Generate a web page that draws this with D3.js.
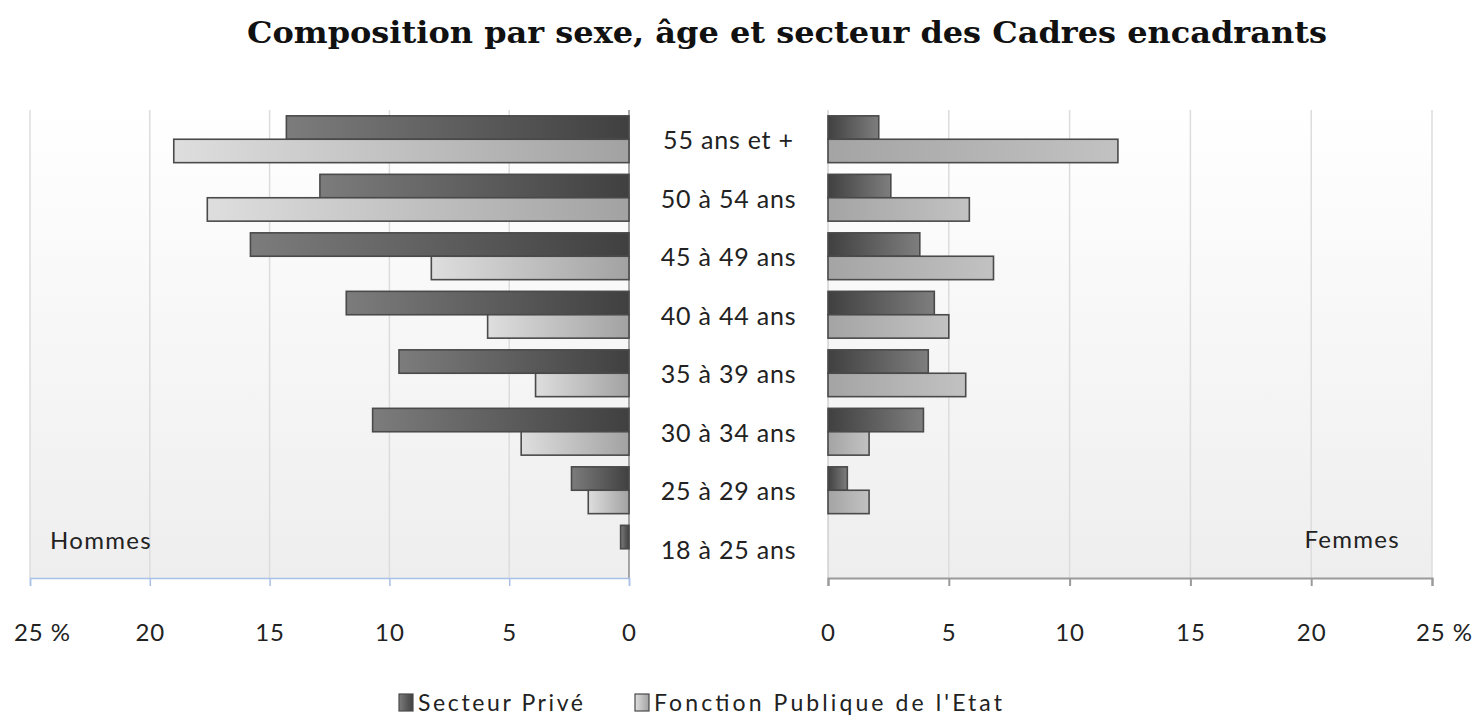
<!DOCTYPE html>
<html>
<head>
<meta charset="utf-8">
<script src="https://cdn.jsdelivr.net/npm/d3@7"></script>
<style>
  body { margin: 0; background: #fff; }
  svg { display: block; }
</style>
</head>
<body>
<div id="chart"></div>
<script>
// data (percent)
const ageGroups = ["55 ans et +", "50 à 54 ans", "45 à 49 ans", "40 à 44 ans",
                   "35 à 39 ans", "30 à 34 ans", "25 à 29 ans", "18 à 25 ans"];
const seriesNames = ["Secteur Privé", "Fonction Publique de l'Etat"];
const hommesPrive  = [14.3, 12.9, 15.8, 11.8, 9.6, 10.7, 2.4, 0.35];
const hommesPublic = [19.0, 17.6, 8.25, 5.9, 3.9, 4.5, 1.7, 0];
const femmesPrive  = [2.1, 2.6, 3.8, 4.4, 4.15, 3.95, 0.8, 0];
const femmesPublic = [12.0, 5.85, 6.85, 5.0, 5.7, 1.7, 1.7, 0];
const tickValues = [0, 5, 10, 15, 20, 25];

const width = 1478, height = 720;
const plotTop = 110, plotBottom = 578;

const svg = d3.select("#chart").append("svg")
    .attr("width", width)
    .attr("height", height);

const defs = svg.append("defs");

function gradient(id, stops) {
    const g = defs.append("linearGradient")
        .attr("id", id)
        .attr("x1", 0).attr("x2", 1).attr("y1", 0).attr("y2", 0);
    stops.forEach(s => g.append("stop").attr("offset", s[0]).attr("stop-color", s[1]));
}
// bars get darker towards the zero line
gradient("privL", [[0, "#7c7c7c"], [1, "#404040"]]);
gradient("pubL", [[0, "#dedede"], [1, "#a2a2a2"]]);
gradient("privR", [[0, "#404040"], [1, "#7e7e7e"]]);
gradient("pubR", [[0, "#a4a4a4"], [1, "#c2c2c2"]]);
const bg = defs.append("linearGradient").attr("id", "bg")
    .attr("x1", 0).attr("x2", 0).attr("y1", 0).attr("y2", 1);
bg.append("stop").attr("offset", 0).attr("stop-color", "#ffffff");
bg.append("stop").attr("offset", 1).attr("stop-color", "#eeeeee");

const xL = d3.scaleLinear().domain([0, 25]).range([629, 30]);
const xR = d3.scaleLinear().domain([0, 25]).range([828, 1432]);

const y = d3.scaleBand()
    .domain(ageGroups)
    .range([plotTop, plotBottom])
    .paddingInner(0.2)
    .paddingOuter(0.1);

const ySub = d3.scaleBand()
    .domain(seriesNames)
    .range([0, y.bandwidth()]);

// title
svg.append("text")
    .attr("x", 787)
    .attr("y", 43)
    .attr("text-anchor", "middle")
    .attr("textLength", 1080)
    .attr("lengthAdjust", "spacingAndGlyphs")
    .style("font-family", "DejaVu Serif, serif")
    .style("font-weight", "bold")
    .style("font-size", "30px")
    .attr("fill", "#111")
    .text("Composition par sexe, âge et secteur des Cadres encadrants");

// plot backgrounds
svg.append("rect").attr("x", xL(25)).attr("y", plotTop)
    .attr("width", xL(0) - xL(25)).attr("height", plotBottom - plotTop)
    .attr("fill", "url(#bg)");
svg.append("rect").attr("x", xR(0)).attr("y", plotTop)
    .attr("width", xR(25) - xR(0)).attr("height", plotBottom - plotTop)
    .attr("fill", "url(#bg)");

// gridlines
[xL, xR].forEach(x => {
    svg.append("g").selectAll("line")
        .data(tickValues.filter(d => d > 0))
        .join("line")
        .attr("x1", d => x(d)).attr("x2", d => x(d))
        .attr("y1", plotTop).attr("y2", plotBottom)
        .attr("stroke", "#dcdcdc").attr("stroke-width", 1.5);
});

// zero lines
svg.append("line")
    .attr("x1", xL(0)).attr("x2", xL(0)).attr("y1", plotTop).attr("y2", plotBottom)
    .attr("stroke", "#8a8a8a").attr("stroke-width", 1.5);
svg.append("line")
    .attr("x1", xR(0)).attr("x2", xR(0)).attr("y1", plotTop).attr("y2", plotBottom)
    .attr("stroke", "#bcbcbc").attr("stroke-width", 1);

// bars
function drawBars(values, x, series, fill, side) {
    svg.append("g").selectAll("rect")
        .data(values.map((v, i) => ({ age: ageGroups[i], v: v })).filter(d => d.v > 0))
        .join("rect")
        .attr("x", d => side === "L" ? x(d.v) : x(0))
        .attr("width", d => Math.abs(x(d.v) - x(0)))
        .attr("y", d => y(d.age) + ySub(series))
        .attr("height", ySub.bandwidth())
        .attr("fill", fill)
        .attr("stroke", "#4a4a4a")
        .attr("stroke-width", 1.6);
}
drawBars(hommesPrive, xL, seriesNames[0], "url(#privL)", "L");
drawBars(hommesPublic, xL, seriesNames[1], "url(#pubL)", "L");
drawBars(femmesPrive, xR, seriesNames[0], "url(#privR)", "R");
drawBars(femmesPublic, xR, seriesNames[1], "url(#pubR)", "R");

// category labels in the middle
svg.append("g").selectAll("text")
    .data(ageGroups)
    .join("text")
    .attr("x", (xL(0) + xR(0)) / 2)
    .attr("y", d => y(d) + y.bandwidth() / 2 + 10)
    .attr("text-anchor", "middle")
    .style("font-family", "Lato, sans-serif")
    .style("font-size", "25px")
    .style("letter-spacing", "0.8px")
    .attr("fill", "#222")
    .text(d => d);

// axes
const fmt = d => d === 25 ? "25 %" : d;
const axisL = svg.append("g")
    .attr("transform", `translate(0,${plotBottom})`)
    .call(d3.axisBottom(xL).tickValues(tickValues).tickSize(8).tickFormat(fmt));
const axisR = svg.append("g")
    .attr("transform", `translate(0,${plotBottom})`)
    .call(d3.axisBottom(xR).tickValues(tickValues).tickSize(8).tickFormat(fmt));

axisL.select(".domain").attr("stroke", "#a9c1e6").attr("stroke-width", 1.5);
axisL.selectAll(".tick line").attr("stroke", "#a9c1e6").attr("stroke-width", 1.5);
axisR.select(".domain").attr("stroke", "#9a9a9a").attr("stroke-width", 2);
axisR.selectAll(".tick line").attr("stroke", "#9a9a9a").attr("stroke-width", 2);
[axisL, axisR].forEach(a => {
    a.selectAll(".tick text")
        .attr("y", 46)
        .style("font-family", "Lato, sans-serif")
        .style("font-size", "24px")
        .style("letter-spacing", "1px")
        .attr("fill", "#222");
    a.selectAll(".tick text").filter(d => d === 25).attr("dx", 12);
});

// panel labels
svg.append("text")
    .attr("x", 50).attr("y", 549)
    .style("font-family", "Lato, sans-serif")
    .style("font-size", "24px")
    .style("letter-spacing", "1.3px")
    .attr("fill", "#222")
    .text("Hommes");
svg.append("text")
    .attr("x", 1400).attr("y", 548)
    .attr("text-anchor", "end")
    .style("font-family", "Lato, sans-serif")
    .style("font-size", "24px")
    .style("letter-spacing", "1.3px")
    .attr("fill", "#222")
    .text("Femmes");

// legend
const legendItems = [
    { name: seriesNames[0], fill: "url(#privL)", x: 399, len: 165 },
    { name: seriesNames[1], fill: "url(#pubL)", x: 635, len: 348 }
];
const legend = svg.append("g").selectAll("g")
    .data(legendItems)
    .join("g")
    .attr("transform", d => `translate(${d.x},695)`);
legend.append("rect")
    .attr("width", 14).attr("height", 17).attr("y", -1)
    .attr("fill", d => d.fill)
    .attr("stroke", "#4a4a4a").attr("stroke-width", 1.2);
legend.append("text")
    .attr("x", 19).attr("y", 16)
    .attr("textLength", d => d.len)
    .attr("lengthAdjust", "spacing")
    .style("font-family", "Lato, sans-serif")
    .style("font-size", "23px")
    .attr("fill", "#222")
    .text(d => d.name);
</script>
</body>
</html>
